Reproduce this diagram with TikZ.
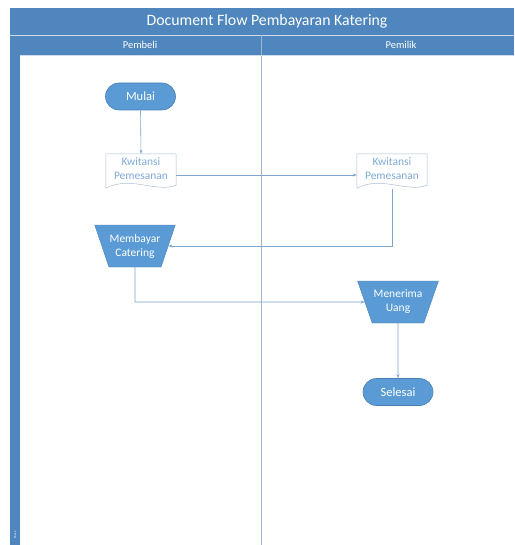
\documentclass[tikz,border=0pt]{standalone}
\usepackage{fontspec}
\setmainfont{Carlito}
\usetikzlibrary{shapes.geometric,shapes.misc,arrows.meta}
\definecolor{barblue}{HTML}{4F86BD}
\definecolor{shapeblue}{HTML}{5B9BD5}
\definecolor{shapeedge}{HTML}{4A80B5}
\definecolor{linecol}{HTML}{7EA6CE}
\definecolor{doctext}{HTML}{7FAAD6}
\definecolor{docedge}{HTML}{A9BFD6}
\definecolor{lanecol}{HTML}{9DB6D0}
\tikzset{
  term/.style={rounded rectangle, fill=shapeblue, draw=shapeedge, line width=0.6pt,
    minimum width=70pt, minimum height=27pt, inner xsep=0pt, text=white, font=\fontsize{12.5}{14}\selectfont},
  manop/.style={trapezium, shape border rotate=180, trapezium stretches=true,
    fill=shapeblue, draw=shapeedge, line width=0.4pt, minimum width=81pt, minimum height=42pt,
    text=white, align=center, font=\fontsize{11.5}{14}\selectfont, inner sep=0pt},
  docnode/.style={minimum width=70pt, minimum height=30pt, text=doctext, align=center,
    font=\fontsize{11.5}{14}\selectfont, inner sep=0pt},
  docline/.style={draw=docedge, line width=0.5pt, fill=white},
  flow/.style={draw=linecol, line width=0.6pt},
  arr/.style={flow, -{Stealth[length=4pt,width=3pt]}},
}
\newcommand{\docshape}[1]{%
  \path[docline] (#1.north west) -- (#1.north east) -- ([yshift=-1pt]#1.south east)
    .. controls ([xshift=-20pt,yshift=-9pt]#1.south east) and ([xshift=25pt,yshift=9pt]#1.south west) ..
    ([yshift=-4pt]#1.south west) -- cycle;}
\begin{document}
\begin{tikzpicture}[x=1pt,y=-1pt]
\useasboundingbox (0,0) rectangle (514,545);
\fill[white] (0,0) rectangle (514,545);
% frame
\fill[barblue] (10,8) rectangle (514,35);
\fill[barblue] (10,35) rectangle (514,55);
\draw[white!70!barblue, line width=0.5pt] (10,35) -- (514,35);
\fill[barblue] (10,55) rectangle (20,545);
\draw[lanecol, line width=0.6pt] (261,35) -- (261,545);
\draw[white!70!barblue, line width=0.5pt] (20,55) -- (514,55);
\node[text=white, font=\fontsize{15.8}{18}\selectfont] (title) at (267,21) {Document Flow Pembayaran Katering};
\node[text=white, font=\fontsize{10.5}{12}\selectfont] (lane1) at (140,45) {Pembeli};
\node[text=white, font=\fontsize{10.5}{12}\selectfont] (lane2) at (401,45) {Pemilik};
\node[text=white, font=\fontsize{3}{4}\selectfont, rotate=90] (phase) at (15,535) {Phase};
% nodes
\node[term] (mulai) at (140.5,96.5) {Mulai};
\node[docnode] (k1) at (141,169) {};
\docshape{k1}
\node[docnode] at (k1) {Kwitansi\\Pemesanan};
\node[docnode] (k2) at (392,169) {};
\docshape{k2}
\node[docnode] at (k2) {Kwitansi\\Pemesanan};
\node[manop] (bayar) at (135,246) {Membayar\\Catering};
\node[manop] (terima) at (398,302) {Menerima\\Uang};
\node[term] (selesai) at (398,392) {Selesai};
% connectors
\draw[arr] (mulai.south) -- (k1.north);
\draw[arr] (k1.east |- 0,175) -- (k2.west |- 0,175);
\draw[arr] (k2.south) ++(0,5) -- (392,246) -- (bayar.east |- 0,246);
\draw[arr] (bayar.south) -- (135,302) -- (terima.west |- 0,302);
\draw[arr] (terima.south) -- (selesai.north);
\end{tikzpicture}
\end{document}
